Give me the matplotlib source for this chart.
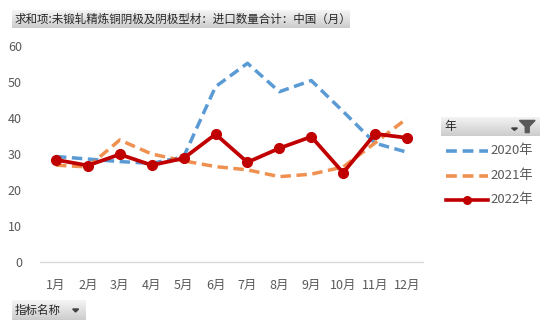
import numpy as np
import matplotlib.pyplot as plt
from matplotlib.lines import Line2D
from matplotlib.patches import Polygon

plt.rcParams['font.family'] = ['Noto Sans CJK SC', 'DejaVu Sans']

# 月度进口数量（万吨）
months = ["1月", "2月", "3月", "4月", "5月", "6月", "7月", "8月", "9月", "10月", "11月", "12月"]
y2020 = [29.3, 28.6, 27.9, 27.4, 29.2, 48.7, 55.2, 47.3, 50.4, 41.8, 33.0, 30.5]
y2021 = [26.9, 26.4, 33.9, 30.0, 28.1, 26.5, 25.6, 23.7, 24.4, 26.4, 33.1, 39.9]
y2022 = [28.4, 26.8, 29.9, 26.9, 28.8, 35.5, 27.7, 31.6, 34.8, 24.8, 35.6, 34.5]
series_names = ["2020年", "2021年", "2022年"]

c_blue = "#5B9BD5"
c_orange = "#ED7D31"
c_red = "#C00000"
c_text = "#595959"

W, H = 550, 330
fig = plt.figure(figsize=(W / 100, H / 100), dpi=100)


def px_axes(x0, y0, x1, y1):
    # 以像素坐标（左上为原点）创建坐标区
    return fig.add_axes([x0 / W, 1 - y1 / H, (x1 - x0) / W, (y1 - y0) / H])


def gray_button(x0, y0, x1, y1):
    bax = px_axes(x0, y0, x1, y1)
    grad = np.linspace(0.96, 0.80, 50).reshape(-1, 1)
    bax.imshow(grad, aspect="auto", cmap="gray", vmin=0, vmax=1,
               extent=[0, 1, 0, 1], origin="upper")
    bax.set_xlim(0, 1)
    bax.set_ylim(0, 1)
    bax.axis("off")
    return bax


# 主图
ax = px_axes(40, 46, 423, 262)
x = np.arange(1, 13)
ax.plot(x, y2020, color=c_blue, lw=2.5, dashes=(3, 1.6))
ax.plot(x, y2021, color=c_orange, lw=2.5, dashes=(3, 1.6), alpha=0.85)
ax.plot(x, y2022, color=c_red, lw=2.7, marker="o", ms=7)

ax.set_xlim(0.5, 12.5)
ax.set_ylim(0, 60)
ax.set_yticks(range(0, 61, 10))
ax.set_xticks(x)
ax.set_xticklabels(months)
for s in ["top", "right", "left"]:
    ax.spines[s].set_visible(False)
ax.spines["bottom"].set_color("#D9D9D9")
ax.spines["bottom"].set_linewidth(1.0)
ax.tick_params(axis="both", length=0, colors=c_text, labelsize=9)
ax.tick_params(axis="y", pad=13)
ax.tick_params(axis="x", pad=12)

# 顶部字段按钮
tb = gray_button(12, 10, 350, 28)
tb.text(0.006, 0.5, "求和项:未锻轧精炼铜阴极及阴极型材：进口数量合计：中国（月）",
        fontsize=8.3, color="#262626", va="center", ha="left")

# 图例标题按钮
lb = gray_button(441, 117, 539, 136)
lb.text(0.04, 0.5, "年", fontsize=8.5, color="#262626", va="center", ha="left")
lb.add_patch(Polygon([[0.80, 0.82], [0.96, 0.82], [0.90, 0.50], [0.90, 0.18],
                      [0.86, 0.18], [0.86, 0.50]], closed=True, color="#595959"))
lb.add_patch(Polygon([[0.72, 0.42], [0.78, 0.42], [0.75, 0.30]], closed=True, color="#404040"))

# 图例
leg_ax = px_axes(441, 138, 549, 212)
leg_ax.set_xlim(441, 549)
leg_ax.set_ylim(212, 138)
leg_ax.axis("off")
styles = [dict(color=c_blue, lw=2.6, dashes=(3, 1.6)),
          dict(color=c_orange, lw=2.6, dashes=(3, 1.6), alpha=0.85),
          dict(color=c_red, lw=2.6, marker="o", ms=5.5, markevery=[1])]
for name, st, yy in zip(series_names, styles, [151, 176, 200]):
    leg_ax.add_line(Line2D([446, 467, 488], [yy, yy, yy], **st))
    leg_ax.text(490, yy, name, fontsize=9.5, color=c_text, va="center", ha="left")

# 底部字段按钮
bb = gray_button(12, 300, 86, 320)
bb.text(0.04, 0.5, "指标名称", fontsize=8.3, color="#262626", va="center", ha="left")
bb.add_patch(Polygon([[0.82, 0.55], [0.90, 0.55], [0.86, 0.40]], closed=True, color="#404040"))

fig.savefig("out.png", dpi=100)
